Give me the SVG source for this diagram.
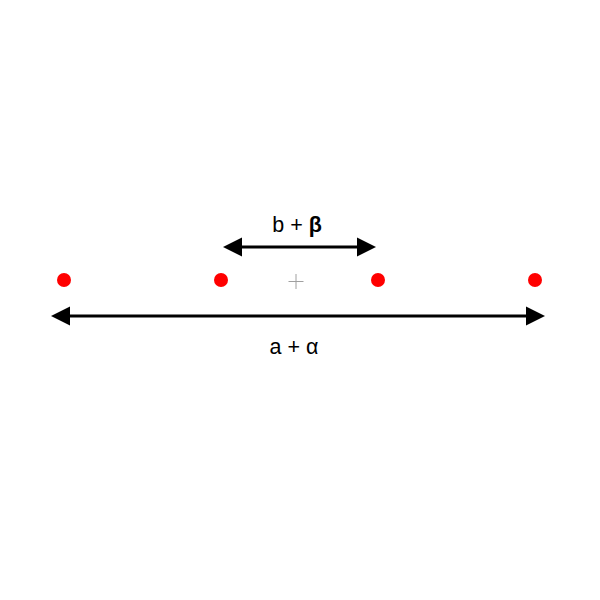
<svg xmlns="http://www.w3.org/2000/svg" width="600" height="600" viewBox="0 0 600 600">
<style>
.dot{fill:#ff0000}
.arr{stroke:#000;stroke-width:3;fill:none}
.head{fill:#000}
.lbl{font-family:"Liberation Sans","Open Sans",sans-serif;font-size:21.5px;fill:#000;text-anchor:middle}
</style>
<rect width="600" height="600" fill="#fff"/>
<g id="points">
<circle class="dot" cx="64" cy="280" r="7"/>
<circle class="dot" cx="221" cy="280" r="7"/>
<circle class="dot" cx="378" cy="280" r="7"/>
<circle class="dot" cx="535" cy="280" r="7"/>
</g>
<g id="center">
<path d="M288.5 281.5H303.5M296 274V289" stroke="#a0a0a0" stroke-width="1"/>
</g>
<g id="connectors">
<line class="arr" x1="68" y1="316" x2="528" y2="316"/>
<polygon class="head" points="51,316 70,306.5 70,325.5"/>
<polygon class="head" points="545,316 526,306.5 526,325.5"/>
<line class="arr" x1="238" y1="247" x2="360" y2="247"/>
<polygon class="head" points="223,247 242,237.5 242,256.5"/>
<polygon class="head" points="376,247 357,237.5 357,256.5"/>
</g>
<g id="labels">
<text class="lbl" x="297" y="232">b + <tspan font-weight="bold">β</tspan></text>
<text class="lbl" x="294" y="354">a + α</text>
</g>
</svg>
